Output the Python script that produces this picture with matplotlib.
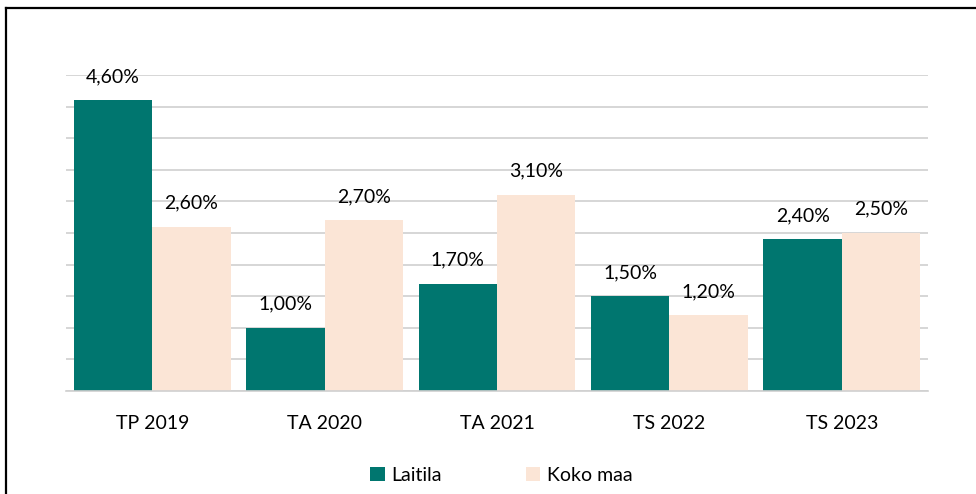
import matplotlib.pyplot as plt
import numpy as np
from matplotlib.lines import Line2D

categories = ["TP 2019", "TA 2020", "TA 2021", "TS 2022", "TS 2023"]
laitila = [4.6, 1.0, 1.7, 1.5, 2.4]
koko_maa = [2.6, 2.7, 3.1, 1.2, 2.5]

plt.rcParams['font.family'] = ['Lato', 'DejaVu Sans']

fig = plt.figure(figsize=(9.76, 4.94), dpi=100)
ax = fig.add_axes([66/976, 103/494, 862/976, 316/494])

x = np.arange(len(categories))
w = 0.455
b1 = ax.bar(x - w/2, laitila, w, color="#00766F", label="Laitila")
b2 = ax.bar(x + w/2, koko_maa, w, color="#FBE5D6", label="Koko maa")

for bars, vals in ((b1, laitila), (b2, koko_maa)):
    for r, v in zip(bars, vals):
        ax.annotate(("%.2f%%" % v).replace(".", ","),
                    (r.get_x() + r.get_width()/2, v),
                    xytext=(0, 11), textcoords="offset points",
                    ha="center", va="bottom", fontsize=14, color="black")

ax.set_xlim(-0.5, 4.5)
ax.set_ylim(0, 5.0)
ax.set_yticks(np.arange(0, 5.01, 0.5))
ax.set_yticklabels([])
ax.tick_params(axis="y", length=0)
ax.tick_params(axis="x", length=0, pad=17, labelsize=14, labelcolor="black")
ax.set_xticks(x)
ax.set_xticklabels(categories)
ax.grid(axis="y", color="#d0d0d0", linewidth=1.2)
ax.set_axisbelow(True)
for s in ("left", "right", "top"):
    ax.spines[s].set_visible(False)
ax.spines["bottom"].set_color("#d0d0d0")
ax.spines["bottom"].set_linewidth(1.2)

ax.legend(loc="upper center", bbox_to_anchor=(0.505, -0.185), ncol=2, frameon=False,
          fontsize=14, handlelength=0.75, handleheight=0.75, columnspacing=4.3,
          handletextpad=0.35)

# outer frame (left and top edges visible)
fig.add_artist(Line2D([5.5/976, 5.5/976], [0, 1 - 8/494], color="black", lw=1.6,
                      transform=fig.transFigure))
fig.add_artist(Line2D([5.5/976, 1], [1 - 8/494, 1 - 8/494], color="black", lw=1.6,
                      transform=fig.transFigure))

fig.savefig("out.png", dpi=100)
